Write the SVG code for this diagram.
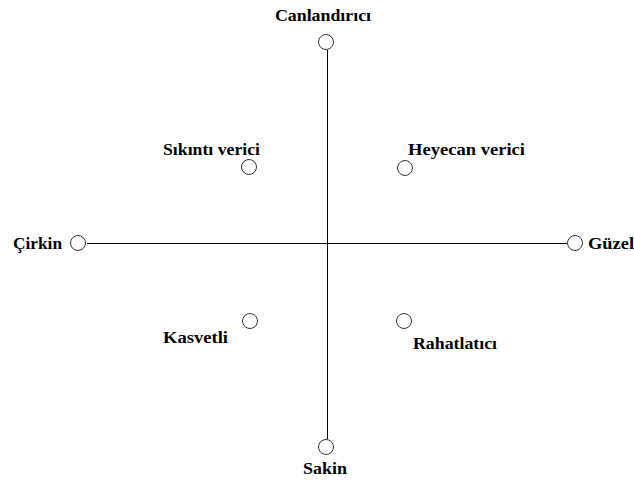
<svg xmlns="http://www.w3.org/2000/svg" width="634" height="483" viewBox="0 0 634 483">
<style>
.n{fill:#fff;stroke:#333;stroke-width:1}
.l{stroke:#000;stroke-width:1;fill:none}
text{font-family:"Liberation Serif","Times New Roman",serif;font-weight:bold;font-size:16px;fill:#000}
</style>
<rect width="634" height="483" fill="#fff"/>
<g id="connectors">
<line class="l" x1="327.5" y1="50" x2="327.5" y2="439"/>
<line class="l" x1="87" y1="243.5" x2="567" y2="243.5"/>
</g>
<g id="canlandirici"><circle class="n" cx="326" cy="42" r="7.5"/><text x="275" y="21" textLength="96" lengthAdjust="spacingAndGlyphs">Canlandırıcı</text></g>
<g id="sikinti"><circle class="n" cx="249" cy="167" r="7.5"/><text x="163" y="155" textLength="97" lengthAdjust="spacingAndGlyphs">Sıkıntı verici</text></g>
<g id="heyecan"><circle class="n" cx="405" cy="168" r="7.5"/><text x="408" y="155" textLength="117" lengthAdjust="spacingAndGlyphs">Heyecan verici</text></g>
<g id="cirkin"><circle class="n" cx="78" cy="243" r="7.5"/><text x="13" y="249" textLength="49" lengthAdjust="spacingAndGlyphs">Çirkin</text></g>
<g id="guzel"><circle class="n" cx="575" cy="243" r="7.5"/><text x="588" y="249" textLength="46" lengthAdjust="spacingAndGlyphs">Güzel</text></g>
<g id="kasvetli"><circle class="n" cx="250" cy="321" r="7.5"/><text x="163" y="343" textLength="65" lengthAdjust="spacingAndGlyphs">Kasvetli</text></g>
<g id="rahatlatici"><circle class="n" cx="404" cy="321" r="7.5"/><text x="413" y="349" textLength="84" lengthAdjust="spacingAndGlyphs">Rahatlatıcı</text></g>
<g id="sakin"><circle class="n" cx="326" cy="447" r="7.5"/><text x="303" y="474" textLength="44" lengthAdjust="spacingAndGlyphs">Sakin</text></g>
</svg>
